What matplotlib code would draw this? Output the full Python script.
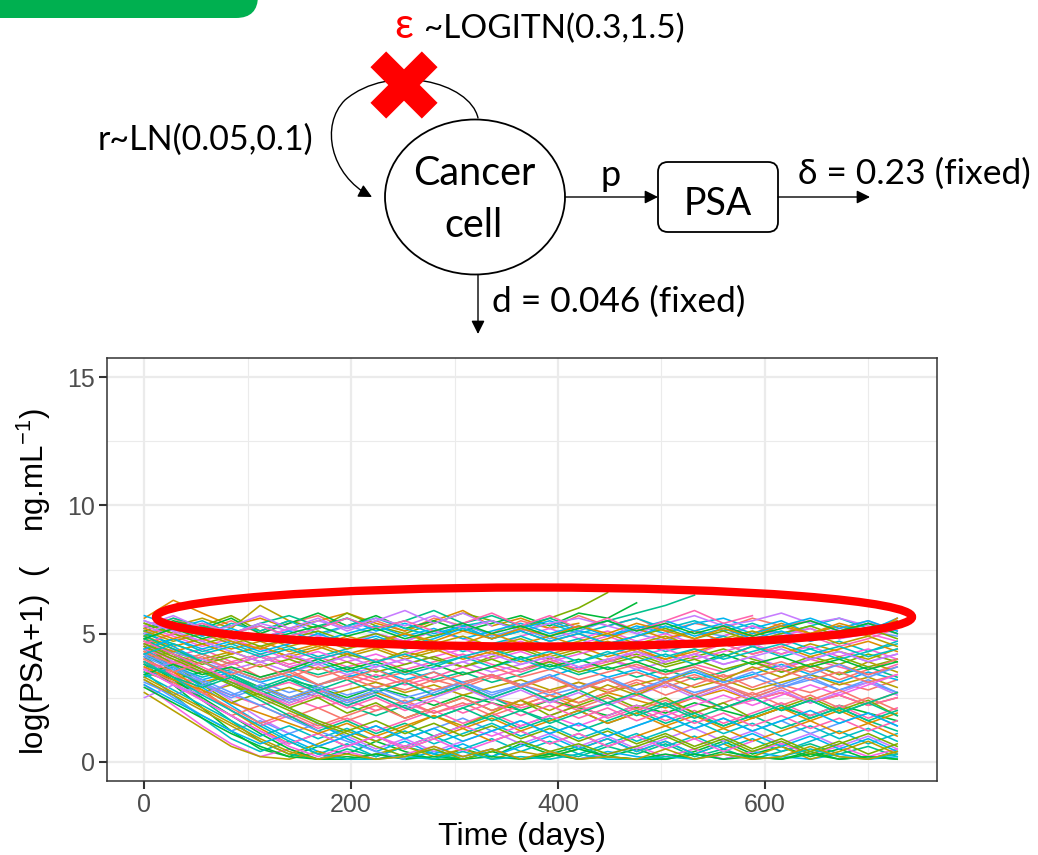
import matplotlib
matplotlib.use("Agg")
import matplotlib.pyplot as plt
from matplotlib.patches import Ellipse, FancyBboxPatch, FancyArrowPatch
from matplotlib.path import Path

# visit days (every 4 weeks)
days = [0, 28, 56, 84, 112, 140, 168, 196, 224, 252, 280, 308, 336, 364,
        392, 420, 448, 476, 504, 532, 560, 588, 616, 644, 672, 700, 728]

# simulated log(PSA+1) trajectories, one list per patient
patients = [
    [5.2, 5.6, 5.1, 5.5, 5.0, 5.4, 5.7, 5.2, 5.5, 5.1, 5.6, 5.3, 5.0, 5.5, 5.2, 5.7, 5.3, 5.6, 5.1, 5.4, 5.2, 5.6, 5.3, 5.5, 5.1, 5.4, 5.2],
    [5.6, 6.3, 5.8, 5.3, 5.6, 5.2, 5.5, 5.8, 5.4, 5.1, 5.5, 5.9, 5.3, 5.6, 5.2, 5.4],
    [4.9, 5.3, 5.6, 5.2, 6.1, 5.5],
    [5.4, 5.0, 5.3, 5.7, 5.1, 5.5, 5.2, 5.8, 5.3, 5.0, 5.4, 5.8, 5.5, 5.2, 5.6, 6.0, 6.6],
    [5.1, 5.5, 5.2, 5.6, 5.0, 5.4, 5.8, 5.3, 5.7, 5.2, 5.5, 5.1, 5.4, 5.7, 5.3, 5.8, 5.6, 6.2],
    [5.2, 5.6, 5.3, 5.0, 5.4, 5.7, 5.3, 5.6, 5.2, 5.5, 5.9, 5.4, 5.7, 5.3, 5.6, 5.2, 5.5, 5.8, 6.1, 6.5],
    [5.0, 5.3, 4.9, 5.4, 5.1, 5.5, 5.0, 5.3, 5.6, 5.2, 4.9, 5.3, 5.5, 5.1, 5.4, 5.0, 5.3, 5.6, 5.2, 5.5, 5.1, 5.4, 5.0, 5.3, 5.6, 5.2, 5.5],
    [4.8, 5.2, 5.5, 5.0, 5.3, 4.9, 5.2, 5.6, 5.1, 5.4, 5.0, 5.3, 4.8, 5.2, 5.5, 5.1, 4.9, 5.3, 5.0, 5.4, 5.6, 5.2, 5.5, 5.0, 5.3, 5.1, 5.6],
    [5.5, 5.1, 5.4, 5.0, 4.8, 5.2, 4.9, 5.3, 5.0, 4.7, 5.1, 5.4, 4.9, 5.2, 4.8, 5.1, 5.5, 5.0, 4.7, 5.1, 4.9, 5.3, 5.0, 5.2, 4.8, 5.1, 4.9],
    [5.3, 5.7, 5.2, 5.0, 5.4, 5.1, 5.5, 5.2, 5.6, 5.3, 5.7, 5.2, 5.5, 5.1, 5.4, 5.6, 5.3, 5.0, 5.4, 5.7, 5.3, 5.5, 5.8, 5.4, 5.6, 5.3, 5.0],
    [4.6, 5.0, 4.7, 5.1, 4.8, 5.2, 4.9, 4.6, 5.0, 4.7, 5.1, 4.8, 4.5, 4.9, 5.2, 4.8, 5.1, 4.7, 5.0, 4.6, 4.9, 5.3, 4.9, 5.2, 4.8, 5.0, 4.7],
    [4.5, 4.1, 4.4, 3.9, 4.2, 3.8, 4.1, 3.7, 4.0, 3.6, 3.9, 4.2, 3.8, 3.5, 3.9, 3.6, 4.0, 3.7, 3.4, 3.8, 3.5, 3.9, 3.6, 4.0, 3.7, 3.4, 3.8],
    [4.2, 3.8, 3.5, 3.9, 3.3, 3.6, 3.0, 3.4, 3.1, 2.8, 3.2, 2.9, 3.3, 3.0, 2.7, 3.1, 2.8, 3.2, 2.9, 3.3, 3.0, 2.6, 3.0, 2.7, 3.1, 2.8, 3.2],
    [3.9, 3.5, 3.1, 3.4, 2.9, 2.5, 2.8, 2.4, 2.7, 2.3, 2.6, 2.9, 2.5, 2.2, 2.6, 2.3, 2.7, 2.4, 2.1, 2.5, 2.8, 2.4, 2.7, 2.3, 2.6, 2.2, 2.5],
    [4.8, 4.4, 4.0, 4.3, 3.9, 4.2, 4.5, 4.1, 4.4, 4.0, 4.3, 4.6, 4.2, 4.5, 4.1, 4.4, 4.7, 4.3, 4.0, 4.4, 4.1, 4.5, 4.2, 4.6, 4.3, 4.0, 4.4],
    [4.0, 4.3, 3.9, 4.2, 4.5, 4.1, 3.8, 4.2, 3.9, 4.3, 4.0, 3.7, 4.1, 4.4, 4.0, 4.3, 3.9, 4.2, 3.8, 4.1, 4.4, 4.0, 3.7, 4.1, 3.8, 4.2, 3.9],
    [3.6, 3.2, 3.5, 3.1, 2.8, 3.2, 2.9, 2.5, 2.9, 2.6, 2.2, 2.6, 2.3, 2.0, 2.4, 2.1, 1.8, 2.2, 1.9, 2.3, 2.0, 1.7, 2.1, 1.8, 2.2, 1.9, 1.6],
    [5.0, 4.6, 4.2, 3.8, 4.1, 3.7, 3.4, 3.7, 3.3, 3.6, 3.2, 3.5, 3.1, 3.4, 3.8, 3.4, 3.7, 3.3, 3.6, 3.2, 3.5, 3.9, 3.5, 3.8, 3.4, 3.7, 3.3],
    [4.4, 4.8, 4.3, 4.6, 4.2, 4.5, 4.1, 4.4, 4.8, 4.4, 4.7, 4.3, 4.6, 4.9, 4.5, 4.8, 4.4, 4.7, 4.3, 4.6, 4.9, 4.5, 4.8, 4.4, 4.7, 4.3, 4.6],
    [3.3, 3.7, 3.2, 3.5, 3.1, 3.4, 3.0, 3.3, 3.6, 3.2, 3.5, 3.1, 3.4, 3.0, 3.3, 3.7, 3.3, 3.6, 3.2, 3.5, 3.1, 3.4, 3.8, 3.4, 3.1, 3.5, 3.2],
    [4.7, 4.3, 3.9, 3.5, 3.1, 2.7, 3.0, 2.6, 2.9, 2.5, 2.8, 3.1, 2.7, 3.0, 2.6, 2.9, 3.2, 2.8, 3.1, 2.7, 3.0, 3.3, 2.9, 3.2, 2.8, 3.1, 2.7],
    [4.1, 4.4, 4.0, 3.6, 3.9, 3.5, 3.8, 3.4, 3.7, 4.0, 3.6, 3.9, 3.5, 3.8, 4.1, 3.7, 4.0, 3.6, 3.9, 4.2, 3.8, 4.1, 3.7, 4.0, 4.3, 3.9, 4.2],
    [5.3, 4.9, 4.5, 4.8, 4.4, 4.0, 4.3, 3.9, 4.2, 3.8, 4.1, 4.4, 4.0, 4.3, 3.9, 4.2, 4.5, 4.1, 4.4, 4.0, 4.3, 4.6, 4.2, 4.5, 4.1, 4.4, 4.0],
    [3.8, 3.4, 3.0, 2.6, 2.2, 2.5, 2.1, 2.4, 2.0, 2.3, 1.9, 2.2, 2.5, 2.1, 2.4, 2.0, 2.3, 2.6, 2.2, 2.5, 2.1, 2.4, 2.7, 2.3, 2.6, 2.2, 2.5],
    [4.3, 3.9, 4.2, 3.8, 4.1, 3.7, 3.3, 3.6, 3.2, 3.5, 3.1, 3.4, 3.7, 3.3, 3.6, 3.2, 3.5, 3.8, 3.4, 3.7, 3.3, 3.6, 3.9, 3.5, 3.8, 3.4, 3.7],
    [4.9, 4.5, 4.8, 4.4, 4.7, 4.3, 4.6, 4.2, 4.5, 4.1, 4.4, 4.0, 4.3, 3.9, 4.2, 4.5, 4.1, 4.4, 4.0, 4.3, 4.6, 4.2, 4.5, 4.1, 4.4, 4.7, 4.3],
    [3.5, 3.1, 2.7, 3.0, 2.6, 2.9, 2.5, 2.8, 3.1, 2.7, 3.0, 2.6, 2.9, 3.2, 2.8, 3.1, 2.7, 3.0, 3.3, 2.9, 3.2, 2.8, 3.1, 3.4, 3.0, 3.3, 2.9],
    [4.6, 4.2, 3.8, 4.1, 3.7, 4.0, 3.6, 3.9, 3.5, 3.8, 4.1, 3.7, 4.0, 3.6, 3.9, 3.5, 3.8, 4.1, 3.7, 4.0, 3.6, 3.9, 3.5, 3.8, 4.1, 3.7, 4.0],
    [3.8, 3.0, 2.1, 1.2, 0.5, 0.2, 0.6, 0.3, 0.8, 0.4, 0.1, 0.5, 0.2, 0.7, 0.3, 0.6, 0.2, 0.5, 0.1, 0.4, 0.8, 0.3, 0.6, 0.2, 0.5, 0.1, 0.4],
    [4.1, 3.3, 2.4, 1.6, 0.8, 0.3, 0.1, 0.5, 0.2, 0.6, 0.3, 0.1, 0.4, 0.8, 0.4, 0.2, 0.6, 0.3, 0.7, 0.2, 0.5, 0.1, 0.4, 0.7, 0.3, 0.6, 0.2],
    [3.5, 2.6, 1.7, 0.9, 0.4, 0.8, 0.3, 0.7, 0.2, 0.6, 1.0, 0.5, 0.9, 0.4, 0.8, 0.3, 0.7, 1.1, 0.6, 1.0, 0.5, 0.9, 0.4, 0.8, 1.2, 0.7, 1.1],
    [4.4, 3.7, 2.9, 2.2, 1.5, 0.9, 0.4, 0.1, 0.3, 0.1, 0.4, 0.2, 0.5, 0.1, 0.3, 0.1, 0.4, 0.2, 0.1, 0.3, 0.1, 0.4, 0.2, 0.1, 0.3, 0.1, 0.2],
    [3.2, 2.5, 1.8, 1.2, 1.6, 1.1, 1.5, 1.0, 1.4, 0.9, 1.3, 1.7, 1.2, 1.6, 1.1, 1.5, 1.0, 1.4, 1.8, 1.3, 1.7, 1.2, 1.6, 1.1, 1.5, 1.9, 1.4],
    [4.6, 3.9, 3.1, 2.4, 1.7, 1.1, 0.6, 1.0, 0.5, 0.9, 0.4, 0.8, 1.2, 0.7, 1.1, 0.6, 1.0, 0.5, 0.9, 1.3, 0.8, 1.2, 0.7, 1.1, 0.6, 1.0, 0.5],
    [3.0, 2.2, 1.4, 0.7, 0.2, 0.5, 0.1, 0.4, 0.1, 0.3, 0.6, 0.2, 0.5, 0.1, 0.4, 0.1, 0.3, 0.6, 0.2, 0.5, 0.1, 0.4, 0.7, 0.3, 0.6, 0.2, 0.5],
    [4.0, 3.4, 2.7, 2.0, 1.4, 1.8, 1.3, 1.7, 1.2, 1.6, 2.0, 1.5, 1.9, 1.4, 1.8, 2.2, 1.7, 2.1, 1.6, 2.0, 1.5, 1.9, 2.3, 1.8, 2.2, 1.7, 2.1],
    [3.7, 3.1, 2.4, 1.8, 2.2, 1.7, 2.1, 1.6, 2.0, 2.4, 1.9, 2.3, 1.8, 2.2, 2.6, 2.1, 2.5, 2.0, 2.4, 1.9, 2.3, 2.7, 2.2, 2.6, 2.1, 2.5, 2.0],
    [4.3, 3.5, 2.8, 2.0, 1.3, 0.7, 1.1, 0.6, 1.0, 0.5, 0.9, 1.3, 0.8, 1.2, 0.7, 1.1, 0.6, 1.0, 1.4, 0.9, 1.3, 0.8, 1.2, 1.6, 1.1, 1.5, 1.0],
    [2.7, 2.0, 1.3, 0.6, 0.2, 0.1, 0.4, 0.1, 0.3, 0.6, 0.2, 0.5, 0.1, 0.4, 0.2, 0.5, 0.9, 0.4, 0.8, 0.3, 0.7, 0.2, 0.6, 0.1, 0.4, 0.8, 0.3],
    [4.5, 3.8, 3.0, 2.3, 2.7, 2.1, 2.5, 1.9, 2.3, 1.7, 2.1, 2.5, 2.0, 2.4, 1.8, 2.2, 2.6, 2.1, 2.5, 1.9, 2.3, 1.7, 2.1, 2.5, 2.0, 2.4, 1.8],
    [3.9, 3.2, 2.5, 1.8, 1.1, 0.5, 0.1, 0.1, 0.3, 0.1, 0.2, 0.1, 0.4, 0.1, 0.2, 0.5, 0.2, 0.1, 0.3, 0.1, 0.4, 0.2, 0.1, 0.3, 0.1, 0.2, 0.1],
    [4.2, 3.6, 3.0, 3.4, 2.8, 2.3, 2.7, 2.2, 1.8, 2.2, 1.7, 2.1, 2.5, 2.0, 1.6, 2.0, 1.5, 1.9, 2.3, 1.8, 1.4, 1.8, 1.3, 1.7, 2.1, 1.6, 1.2],
    [3.4, 2.8, 2.2, 1.6, 1.0, 1.4, 0.9, 1.3, 0.8, 1.2, 0.7, 1.1, 1.5, 1.0, 1.4, 0.9, 1.3, 0.8, 1.2, 1.6, 1.1, 1.5, 1.0, 1.4, 0.9, 1.3, 0.8],
    [5.1, 4.5, 3.9, 3.3, 2.7, 2.1, 1.5, 0.9, 0.4, 0.8, 0.3, 0.7, 0.2, 0.6, 1.0, 0.5, 0.9, 0.4, 0.8, 0.3, 0.7, 1.1, 0.6, 1.0, 0.5, 0.9, 0.4],
    [3.1, 2.6, 3.0, 2.5, 2.9, 2.4, 2.8, 2.3, 2.7, 3.1, 2.6, 3.0, 2.5, 2.9, 2.4, 2.8, 3.2, 2.7, 3.1, 2.6, 3.0, 2.5, 2.9, 3.3, 2.8, 3.2, 2.7],
    [2.5, 3.0, 2.6, 3.1, 2.7, 2.3, 2.7, 2.2, 2.6, 2.1, 2.5, 2.9, 2.4, 2.8, 2.3, 2.7, 2.2, 2.6, 3.0, 2.5, 2.9, 2.4, 2.8, 2.3, 2.7, 3.1, 2.6],
    [3.6, 3.9, 3.5, 3.8, 4.1, 3.7, 4.0, 4.3, 3.9, 4.2, 4.5, 4.1, 4.4, 4.7, 4.3, 4.6, 4.9, 4.5, 4.8, 5.1, 4.7, 5.0, 5.3, 4.9, 5.2, 5.5, 5.1],
    [4.4, 4.0, 3.6, 3.2, 2.8, 3.1, 2.7, 3.0, 3.4, 3.0, 3.3, 3.7, 3.3, 3.6, 4.0, 3.6, 3.9, 4.3, 3.9, 4.2, 4.6, 4.2, 4.5, 4.9, 4.5, 4.8, 5.2],
    [3.9, 3.3, 2.7, 2.1, 1.5, 1.9, 1.4, 1.8, 2.2, 1.7, 2.1, 2.5, 2.0, 2.4, 2.8, 2.3, 2.7, 3.1, 2.6, 3.0, 3.4, 2.9, 3.3, 3.7, 3.2, 3.6, 4.0],
    [4.7, 4.3, 4.6, 4.2, 4.5, 4.1, 4.4, 4.8, 4.4, 4.7, 4.3, 4.6, 5.0, 4.6, 4.9, 4.5, 4.8, 5.2, 4.8, 5.1, 4.7, 5.0, 5.4, 5.0, 5.3, 4.9, 5.6],
    [3.2, 2.6, 2.0, 1.4, 0.8, 0.3, 0.7, 1.2, 0.8, 1.3, 1.8, 1.4, 1.9, 2.4, 2.0, 2.5, 3.0, 2.6, 3.1, 3.6, 3.2, 3.7, 3.3, 3.8, 3.4, 3.9, 3.5],
    [5.4, 5.0, 4.6, 4.9, 4.5, 4.8, 5.1, 4.7, 5.0, 4.6, 4.9, 5.2, 4.8, 5.1, 4.7, 5.0, 4.6, 4.9, 5.2, 4.8, 5.1, 4.7, 5.0, 5.3, 4.9, 5.2, 4.8],
    [2.9, 2.3, 1.7, 1.1, 0.6, 0.2, 0.1, 0.2, 0.1, 0.3, 0.1, 0.1, 0.2, 0.1, 0.3, 0.1, 0.2, 0.1, 0.1, 0.3, 0.1, 0.2, 0.1, 0.4, 0.1, 0.2, 0.1],
    [4.8, 4.2, 3.6, 3.0, 2.4, 1.8, 1.2, 1.6, 1.1, 1.5, 1.0, 1.4, 1.8, 1.3, 1.7, 1.2, 1.6, 2.0, 1.5, 1.9, 1.4, 1.8, 2.2, 1.7, 2.1, 1.6, 2.0],
    [3.3, 3.7, 3.3, 3.6, 3.2, 3.5, 3.9, 3.5, 3.8, 3.4, 3.7, 4.1, 3.7, 4.0, 3.6, 3.9, 4.3, 3.9, 4.2, 3.8, 4.1, 4.5, 4.1, 4.4, 4.0, 4.3, 4.7],
    [5.7, 5.3, 4.9, 5.2, 4.8, 5.1, 4.7, 5.0, 5.3, 4.9, 5.2, 4.8, 5.1, 5.4, 5.0, 5.3, 4.9, 5.2, 5.5, 5.1, 5.4, 5.0, 5.3, 5.6, 5.2, 5.5, 5.1],
    [4.2, 3.7, 3.2, 2.7, 2.2, 1.7, 1.2, 0.8, 0.4, 0.1],
    [5.0, 5.4, 5.0, 5.3, 5.7, 5.2, 5.6, 5.1, 5.5, 5.9, 5.4, 5.8, 5.3],
    [3.6, 3.0, 2.4, 1.8, 1.2, 0.7, 1.1, 0.6, 1.0, 0.5, 0.9, 0.4, 0.8, 1.2, 0.7, 1.1, 0.6, 1.0, 0.5, 0.9, 0.4, 0.8],
    [4.6, 5.0, 5.4, 5.0, 5.3, 4.9, 5.2, 5.6, 5.2, 5.5, 5.1, 5.4, 5.8, 5.3, 5.7, 5.2, 5.6, 5.1, 5.5, 5.9, 5.4, 5.7],
    [4.3, 3.8, 4.1, 3.6, 3.2, 3.5, 3.0, 3.3, 2.9, 3.2, 2.8, 3.1, 3.4, 3.0, 3.3, 2.9, 3.2, 3.5, 3.1, 3.4, 3.0, 3.3, 3.6, 3.2, 3.5, 3.1, 3.4],
    [3.7, 3.2, 2.8, 2.3, 1.9, 1.5, 1.1, 1.5, 1.0, 1.4, 1.8, 1.3, 1.7, 1.2, 1.6, 2.0, 1.5, 1.9, 1.4, 1.8, 1.3, 1.7, 2.1, 1.6, 2.0, 1.5, 1.9],
    [5.1, 4.7, 5.0, 4.6, 4.9, 4.5, 4.8, 4.4, 4.7, 5.0, 4.6, 4.9, 4.5, 4.8, 4.4, 4.7, 5.0, 4.6, 4.9, 4.5, 4.8, 5.1, 4.7, 5.0, 4.6, 4.9, 4.5],
    [4.5, 4.0, 3.5, 3.0, 2.5, 2.0, 1.5, 1.1, 0.6, 0.2, 0.5, 0.1, 0.4, 0.8, 0.4, 0.7, 0.3, 0.6, 1.0, 0.5, 0.9, 0.4, 0.8, 0.3, 0.7, 1.1, 0.6],
    [3.4, 3.8, 3.4, 3.7, 3.3, 3.6, 4.0, 3.6, 3.9, 3.5, 3.8, 3.4, 3.7, 4.1, 3.7, 4.0, 3.6, 3.9, 3.5, 3.8, 4.2, 3.8, 4.1, 3.7, 4.0, 3.6, 3.9],
    [4.9, 4.4, 3.9, 3.4, 2.9, 3.3, 2.8, 3.2, 2.7, 3.1, 2.6, 3.0, 2.5, 2.9, 2.4, 2.8, 2.3, 2.7, 2.2, 2.6, 2.1, 2.5, 2.0, 2.4, 1.9, 2.3, 1.8],
    [3.9, 3.3, 2.6, 2.0, 1.4, 0.8, 0.3, 0.1, 0.1, 0.2, 0.1, 0.4, 0.1, 0.2, 0.1, 0.3, 0.1, 0.1, 0.2, 0.1, 0.3, 0.1, 0.2, 0.5, 0.2, 0.1, 0.3],
    [4.4, 4.8, 4.4, 4.7, 4.3, 4.6, 5.0, 4.6, 4.9, 4.5, 4.8, 5.2, 4.8, 5.1, 4.7, 5.0, 4.6, 4.9, 5.3, 4.9, 5.2, 4.8, 5.1, 4.7, 5.0, 5.4, 5.0],
    [4.1, 3.6, 3.1, 2.6, 3.0, 2.5, 2.9, 2.4, 2.8, 2.3, 2.7, 3.1, 2.6, 3.0, 3.4, 2.9, 3.3, 2.8, 3.2, 3.6, 3.1, 3.5, 3.0, 3.4, 3.8, 3.3, 3.7],
    [5.5, 5.1, 4.7, 4.3, 3.9, 4.2, 3.8, 4.1, 3.7, 4.0, 3.6, 3.9, 4.2, 3.8, 4.1, 3.7, 4.0, 4.3, 3.9, 4.2, 3.8, 4.1, 4.4, 4.0, 4.3, 3.9, 4.2],
    [3.6, 3.0, 2.4, 1.8, 1.2, 0.6, 0.2, 0.6, 1.0, 0.6, 1.0, 1.4, 1.0, 1.4, 1.8, 1.4, 1.8, 2.2, 1.8, 2.2, 2.6, 2.2, 2.6, 3.0, 2.6, 3.0, 3.4],
    [4.7, 4.2, 3.7, 3.2, 2.7, 2.2, 2.6, 2.1, 2.5, 2.0, 2.4, 1.9, 2.3, 1.8, 2.2, 1.7, 2.1, 1.6, 2.0, 1.5, 1.9, 1.4, 1.8, 1.3, 1.7, 1.2, 1.6],
    [4.0, 3.5, 3.9, 3.4, 3.8, 3.3, 3.7, 3.2, 3.6, 3.1, 3.5, 3.0, 3.4, 2.9, 3.3, 2.8, 3.2, 2.7, 3.1, 2.6, 3.0, 2.5, 2.9, 2.4, 2.8, 2.3, 2.7],
    [5.2, 4.8, 5.1, 4.7, 4.4, 4.8, 4.5, 4.9, 4.6, 5.0, 4.7, 5.1, 4.8, 5.2, 4.9, 5.3, 5.0, 5.4, 5.1, 4.8, 5.2, 4.9, 5.3, 5.0, 5.4, 5.1, 5.5],
    [3.3, 2.7, 2.1, 1.5, 0.9, 0.4, 0.1, 0.3, 0.1, 0.2, 0.6, 0.2, 0.5, 0.1, 0.4, 0.1, 0.2, 0.1, 0.5, 0.1, 0.3, 0.1, 0.2, 0.6, 0.2, 0.1, 0.4],
    [4.6, 4.1, 3.6, 3.1, 2.6, 2.1, 1.6, 1.2, 1.6, 1.1, 1.5, 1.0, 1.4, 0.9, 1.3, 0.8, 1.2, 0.7, 1.1, 0.6, 1.0, 0.5, 0.9, 0.4, 0.8, 0.3, 0.7],
    [4.8, 5.2, 4.8, 5.1, 4.7, 5.0, 5.3, 4.9, 5.2, 4.8, 5.1, 5.4, 5.0, 5.3, 4.9, 5.2, 5.5, 5.1, 5.4, 5.0, 5.3, 4.9, 5.2, 5.5, 5.1, 5.4, 5.0],
    [3.8, 3.3, 2.9, 3.3, 2.8, 3.2, 2.7, 2.2, 2.6, 2.1, 1.7, 2.1, 1.6, 2.0, 1.5, 1.9, 2.3, 1.8, 2.2, 1.7, 2.1, 2.5, 2.0, 2.4, 1.9, 2.3, 2.7],
    [4.2, 4.6, 4.2, 4.5, 4.1, 4.4, 4.0, 4.3, 3.9, 4.2, 3.8, 4.1, 4.4, 4.0, 4.3, 3.9, 4.2, 4.5, 4.1, 4.4, 4.0, 4.3, 4.6, 4.2, 4.5, 4.1, 4.4],
    [3.0, 2.4, 1.8, 1.2, 0.7, 1.1, 0.6, 1.0, 1.4, 0.9, 1.3, 0.8, 1.2, 1.6, 1.1, 1.5, 1.0, 1.4, 1.8, 1.3, 1.7, 1.2, 1.6, 2.0, 1.5, 1.9, 1.4],
]

# ggplot-like hue palette, cycled over patients
hues = ["#F8766D", "#DE8C00", "#B79F00", "#7CAE00", "#00BA38", "#00C08B",
        "#00BFC4", "#00B4F0", "#619CFF", "#C77CFF", "#F564E3", "#FF64B0"]

plt.rcParams["font.family"] = ["Liberation Sans", "DejaVu Sans"]
plt.rcParams["mathtext.fontset"] = "custom"
plt.rcParams["mathtext.rm"] = "Liberation Sans"
plt.rcParams["mathtext.it"] = "Liberation Sans"

W, H = 1038, 855
fig = plt.figure(figsize=(W / 100, H / 100), dpi=100)
fig.patch.set_facecolor("white")

# --- trajectory panel ---
ax = fig.add_axes([106.6 / W, 1 - 781 / H, (937 - 106.6) / W, (781 - 358) / H])
for i, vals in enumerate(patients):
    ax.plot(days[:len(vals)], vals, color=hues[i % len(hues)], lw=1.15)

ax.set_xlim(-36.5, 766.5)
ax.set_ylim(-0.75, 15.75)
ax.set_xticks([0, 200, 400, 600])
ax.set_yticks([0, 5, 10, 15])
ax.set_xticks([100, 300, 500, 700], minor=True)
ax.set_yticks([2.5, 7.5, 12.5], minor=True)
ax.grid(which="major", color="#EBEBEB", lw=1.6)
ax.grid(which="minor", color="#EBEBEB", lw=0.8)
ax.set_axisbelow(True)
for s in ax.spines.values():
    s.set_color("#333333")
    s.set_linewidth(1.1)
ax.tick_params(which="major", length=5.5, width=1.5, color="#333333",
               labelcolor="#4D4D4D", labelsize=18, pad=3)
ax.tick_params(which="minor", length=0)
ax.set_xlabel("Time (days)", fontsize=23, labelpad=4)
ax.set_ylabel(r"log(PSA+1)  (    ng.mL$^{-1}$)", fontsize=22.5)
ax.yaxis.set_label_coords(-0.064, 0.47)

# --- model diagram, drawn in pixel coordinates ---
ov = fig.add_axes([0, 0, 1, 1], zorder=5)
ov.set_xlim(0, W)
ov.set_ylim(H, 0)
ov.axis("off")
ov.patch.set_alpha(0)

dfont = ["Lato", "DejaVu Sans"]

ov.add_patch(FancyBboxPatch((-60, -60), 318, 78,
                            boxstyle="round,pad=0,rounding_size=22",
                            fc="#00B050", ec="none"))

# self-renewal loop
loop = Path([(478, 118), (470, 82), (390, 62), (345, 100),
             (320, 125), (330, 175), (372, 197)],
            [Path.MOVETO, Path.CURVE4, Path.CURVE4, Path.CURVE4,
             Path.CURVE4, Path.CURVE4, Path.CURVE4])
ov.add_patch(FancyArrowPatch(path=loop, arrowstyle="-|>", mutation_scale=20,
                             lw=1.0, color="black", shrinkA=0, shrinkB=0))

ov.add_patch(Ellipse((475, 197), 180, 155, fc="white", ec="black", lw=1.3))
ov.text(474, 185, "Cancer", fontsize=28.5, ha="center", va="baseline", family=dfont)
ov.text(474, 237, "cell", fontsize=28.5, ha="center", va="baseline", family=dfont)

# red cross over the loop
for dx in (25.7, -25.7):
    ov.plot([404 - dx, 404 + dx], [85 - 25.7, 85 + 25.7], color="#FF0000",
            lw=16, solid_capstyle="butt")

ov.text(394, 38, "ε", fontsize=30, color="#FF0000", ha="left", va="baseline",
        family=dfont)
ov.text(424, 38, "~LOGITN(0.3,1.5)", fontsize=24, ha="left", va="baseline",
        family=dfont)
ov.text(98, 150, "r~LN(0.05,0.1)", fontsize=24.5, ha="left", va="baseline",
        family=dfont)

# cell -> PSA
ov.add_patch(FancyArrowPatch((565, 197), (658, 197), arrowstyle="-|>",
                             mutation_scale=20, lw=1.0, color="black",
                             shrinkA=0, shrinkB=0))
ov.text(611, 186, "p", fontsize=26, ha="center", va="baseline", family=dfont)

ov.add_patch(FancyBboxPatch((658, 162), 120, 70,
                            boxstyle="round,pad=0,rounding_size=10",
                            fc="white", ec="black", lw=1.3))
ov.text(718, 215, "PSA", fontsize=27, ha="center", va="baseline", family=dfont)

# PSA clearance
ov.add_patch(FancyArrowPatch((778, 197), (870, 197), arrowstyle="-|>",
                             mutation_scale=20, lw=1.0, color="black",
                             shrinkA=0, shrinkB=0))
ov.text(798, 184, "δ = 0.23 (fixed)", fontsize=25.5, ha="left", va="baseline",
        family=dfont)

# cell death
ov.add_patch(FancyArrowPatch((478, 275), (478, 334), arrowstyle="-|>",
                             mutation_scale=20, lw=1.0, color="black",
                             shrinkA=0, shrinkB=0))
ov.text(492, 312, "d = 0.046 (fixed)", fontsize=25.5, ha="left", va="baseline",
        family=dfont)

# upper-band highlight
ov.add_patch(Ellipse((534, 617), 756, 59, fill=False, ec="#FF0000", lw=6))

fig.savefig("out.png", dpi=100)
